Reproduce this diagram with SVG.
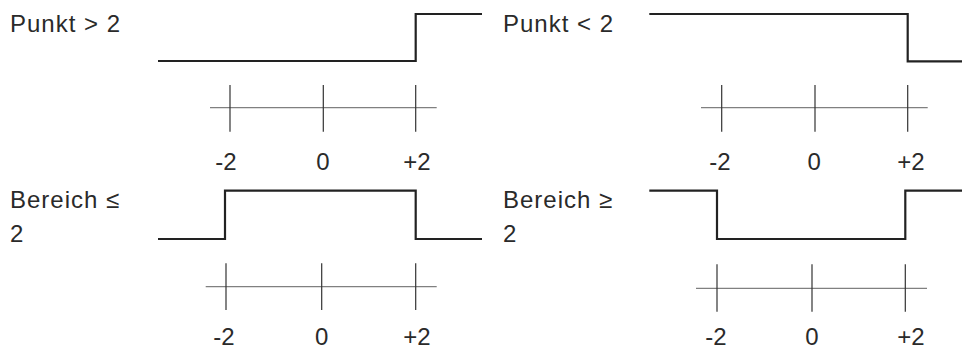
<svg xmlns="http://www.w3.org/2000/svg" width="962" height="349" viewBox="0 0 962 349">
<style>
.lbl{font-family:"Liberation Sans",Arial,sans-serif;font-size:24px;fill:#2a2a2a;letter-spacing:1px}
.num{font-family:"Liberation Sans",Arial,sans-serif;font-size:24px;fill:#2a2a2a;text-anchor:middle}
.sig{fill:none;stroke:#222;stroke-width:2.2;stroke-linejoin:miter}
.axis{stroke:#808080;stroke-width:1.3}
.tick{stroke:#333;stroke-width:1.2}
</style>
<rect width="962" height="349" fill="#fff"/>
<g id="panel-punkt-gt">
<text class="lbl" x="10" y="32">Punkt &gt; 2</text>
<path class="sig" d="M158 61 H415.7 V14 H482"/>
<line class="axis" x1="210" y1="107.7" x2="436.7" y2="107.7"/>
<line class="tick" x1="230" y1="85" x2="230" y2="131.7"/>
<line class="tick" x1="323.3" y1="85" x2="323.3" y2="131.7"/>
<line class="tick" x1="415.7" y1="85" x2="415.7" y2="131.7"/>
<text class="num" x="226" y="170">-2</text>
<text class="num" x="323" y="170">0</text>
<text class="num" x="417" y="170">+2</text>
</g>
<g id="panel-punkt-lt">
<text class="lbl" x="503" y="32">Punkt &lt; 2</text>
<path class="sig" d="M649.3 14 H907.7 V61.3 H962"/>
<line class="axis" x1="701" y1="107.7" x2="927.7" y2="107.7"/>
<line class="tick" x1="721.7" y1="85" x2="721.7" y2="131.7"/>
<line class="tick" x1="815" y1="85" x2="815" y2="131.7"/>
<line class="tick" x1="907.7" y1="85" x2="907.7" y2="131.7"/>
<text class="num" x="720" y="170">-2</text>
<text class="num" x="814.3" y="170">0</text>
<text class="num" x="911" y="170">+2</text>
</g>
<g id="panel-bereich-le">
<text class="lbl" x="10" y="208">Bereich ≤</text>
<text class="lbl" x="10" y="241.7">2</text>
<path class="sig" d="M158 239 H225 V190.7 H415.7 V239 H482"/>
<line class="axis" x1="205.7" y1="286.7" x2="436.7" y2="286.7"/>
<line class="tick" x1="226" y1="263.3" x2="226" y2="310"/>
<line class="tick" x1="321.7" y1="263.3" x2="321.7" y2="310"/>
<line class="tick" x1="415.7" y1="263.3" x2="415.7" y2="310"/>
<text class="num" x="224" y="345">-2</text>
<text class="num" x="321.7" y="345">0</text>
<text class="num" x="417" y="345">+2</text>
</g>
<g id="panel-bereich-ge">
<text class="lbl" x="503" y="208">Bereich ≥</text>
<text class="lbl" x="503" y="241.7">2</text>
<path class="sig" d="M649.3 190.7 H717 V239 H905.3 V190.7 H962"/>
<line class="axis" x1="696" y1="288.3" x2="927" y2="288.3"/>
<line class="tick" x1="717" y1="264.3" x2="717" y2="311.7"/>
<line class="tick" x1="812" y1="264.3" x2="812" y2="311.7"/>
<line class="tick" x1="905.3" y1="264.3" x2="905.3" y2="311.7"/>
<text class="num" x="716" y="345">-2</text>
<text class="num" x="812" y="345">0</text>
<text class="num" x="911" y="345">+2</text>
</g>
</svg>
